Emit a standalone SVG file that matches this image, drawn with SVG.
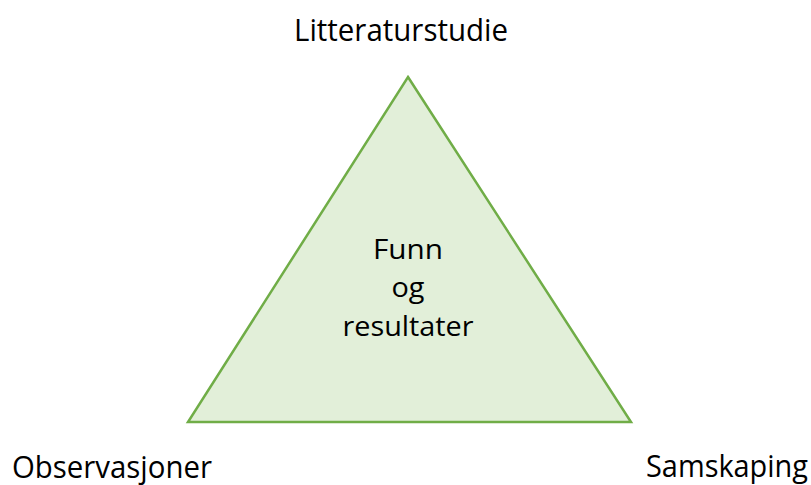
<svg xmlns="http://www.w3.org/2000/svg" width="811" height="485" viewBox="0 0 811 485">
  <style>
    .lbl { font-family: "Open Sans", "Liberation Sans", sans-serif; fill: #000; }
    .outer { font-size: 31px; }
    .inner { font-size: 28px; text-anchor: middle; }
    .tri { fill: #e2efd9; stroke: #70ad47; stroke-width: 2.5; stroke-linejoin: miter; }
  </style>
  <rect width="811" height="485" fill="#ffffff"/>
  <g id="triangle">
    <polygon class="tri" points="408,77 631,422 188,422"/>
    <text class="lbl inner" x="408" y="259" textLength="70" lengthAdjust="spacingAndGlyphs">Funn</text>
    <text class="lbl inner" x="408" y="297" textLength="33" lengthAdjust="spacingAndGlyphs">og</text>
    <text class="lbl inner" x="408" y="336" textLength="131" lengthAdjust="spacingAndGlyphs">resultater</text>
  </g>
  <g id="top-label">
    <text class="lbl outer" x="294" y="41" textLength="214" lengthAdjust="spacingAndGlyphs">Litteraturstudie</text>
  </g>
  <g id="left-label">
    <text class="lbl outer" x="12" y="478" textLength="200" lengthAdjust="spacingAndGlyphs">Observasjoner</text>
  </g>
  <g id="right-label">
    <text class="lbl outer" x="646" y="477" textLength="162" lengthAdjust="spacingAndGlyphs">Samskaping</text>
  </g>
</svg>
